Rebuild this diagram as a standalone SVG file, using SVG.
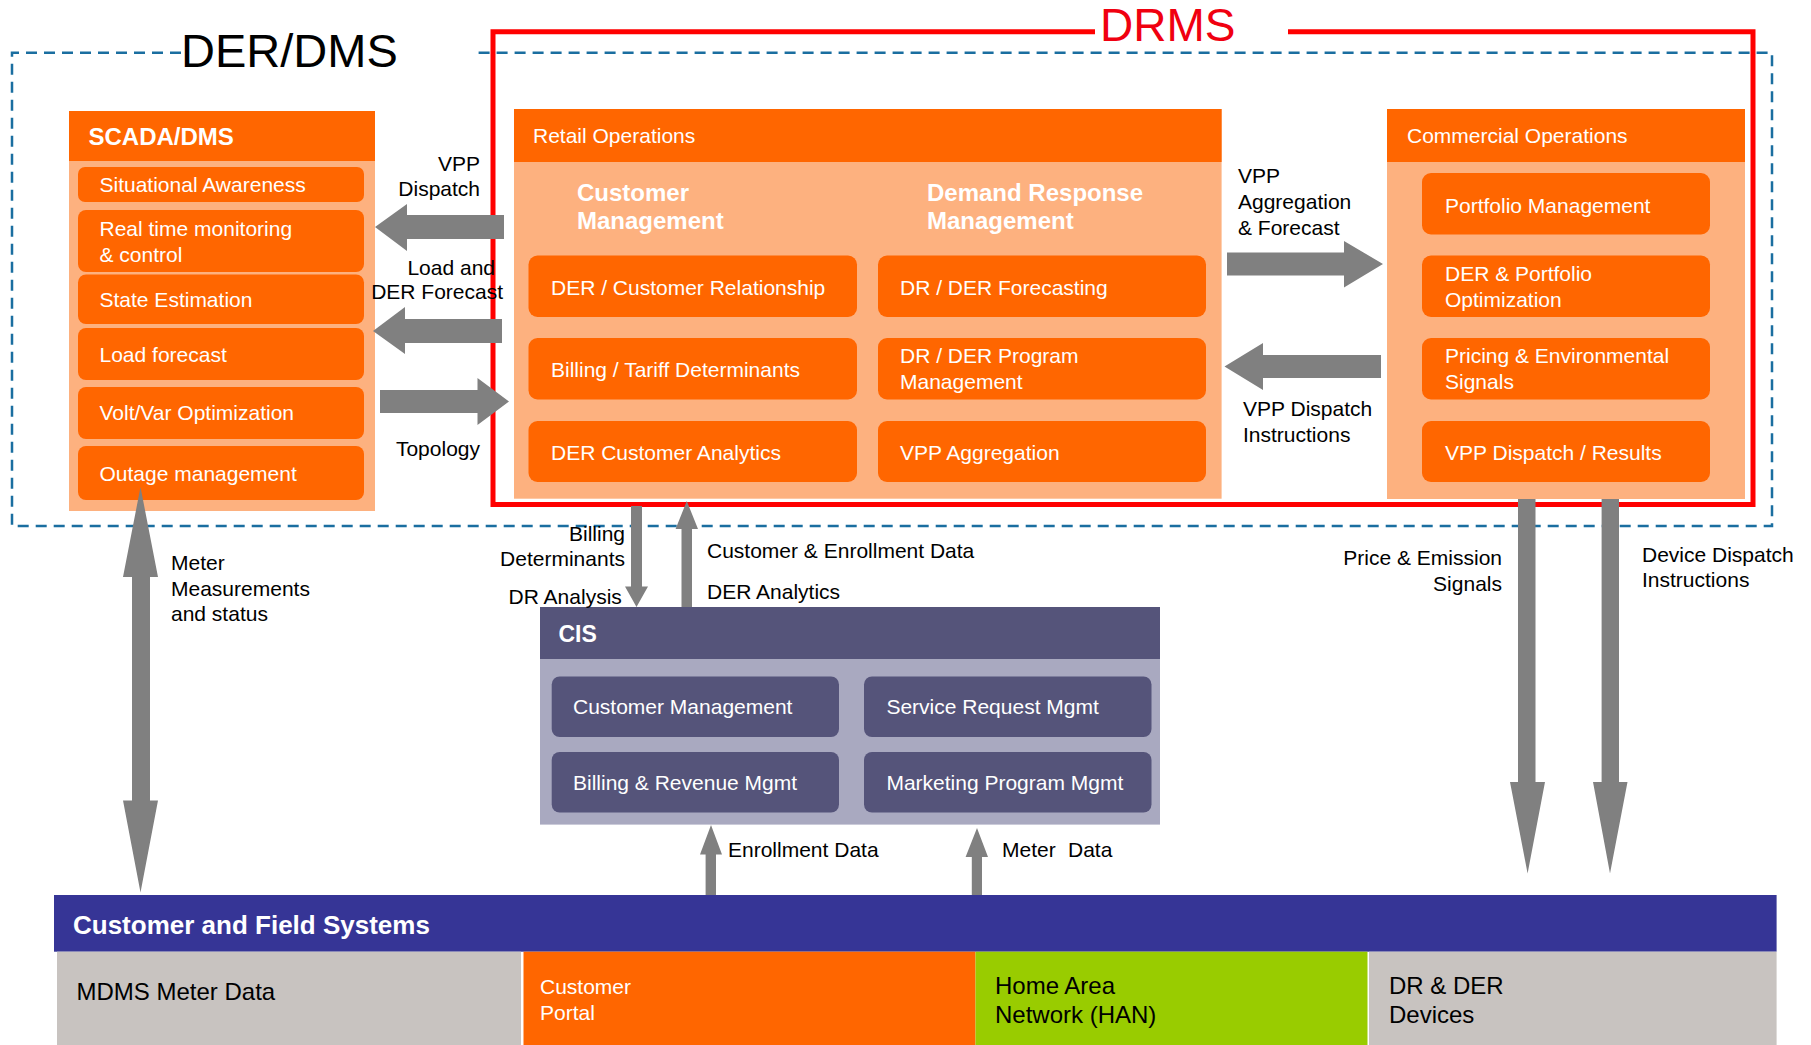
<svg xmlns="http://www.w3.org/2000/svg" width="1811" height="1045" viewBox="0 0 1811 1045">
<style>
text{font-family:"Liberation Sans",Arial,sans-serif;font-size:21px;fill:#000}
.w{fill:#fff}
.b{font-weight:bold}
.hdr{fill:#ff6600}
.body{fill:#fdb17f}
.item{fill:#ff6600}
.cish{fill:#55547a}
.cisb{fill:#a9a9c0}
.cisi{fill:#55547a}
.arr{fill:#808080}
</style>
<rect width="1811" height="1045" fill="#fff"/>
<g id="der-dms-boundary">
<path d="M181,52.7 H12 V526 H1772 V52.7 H474" fill="none" stroke="#1a6ea0" stroke-width="2.5" stroke-dasharray="11,7"/>
<text x="181" y="67" style="font-size:47px">DER/DMS</text>
</g>
<g id="drms-boundary">
<path d="M1095,31.7 H493 V504.5 H1753 V31.7 H1288" fill="none" stroke="#ff0000" stroke-width="5"/>
<text x="1100" y="41.3" style="font-size:46px;fill:#f00010">DRMS</text>
</g>
<g id="scada-dms">
<rect class="body" x="69" y="111" width="306" height="400"/>
<rect class="hdr" x="69" y="111" width="306" height="50"/>
<text class="w b" x="88.5" y="144.6" style="font-size:24px">SCADA/DMS</text>
<rect class="item" x="78" y="167" width="286" height="35" rx="7"/>
<text class="w" x="99.5" y="192">Situational Awareness</text>
<rect class="item" x="78" y="210" width="286" height="62" rx="8"/>
<text class="w" x="99.5" y="236">Real time monitoring</text>
<text class="w" x="99.5" y="262">&amp; control</text>
<rect class="item" x="78" y="274.5" width="286" height="49.5" rx="8"/>
<text class="w" x="99.5" y="306.5">State Estimation</text>
<rect class="item" x="78" y="328" width="286" height="52" rx="8"/>
<text class="w" x="99.5" y="362">Load forecast</text>
<rect class="item" x="78" y="387" width="286" height="52" rx="8"/>
<text class="w" x="99.5" y="420">Volt/Var Optimization</text>
<rect class="item" x="78" y="446" width="286" height="54" rx="8"/>
<text class="w" x="99.5" y="481">Outage management</text>
</g>
<g id="retail-operations">
<rect class="body" x="514" y="109" width="707.6" height="389.7"/>
<rect class="hdr" x="514" y="109" width="707.6" height="53"/>
<text class="w" x="533" y="143">Retail Operations</text>
<text class="w b" x="577" y="200.8" style="font-size:24px">Customer</text>
<text class="w b" x="577" y="229" style="font-size:24px">Management</text>
<text class="w b" x="927" y="200.8" style="font-size:24px">Demand Response</text>
<text class="w b" x="927" y="229" style="font-size:24px">Management</text>
<rect class="item" x="528.5" y="255.5" width="328.5" height="61.5" rx="9"/>
<text class="w" x="551" y="295">DER / Customer Relationship</text>
<rect class="item" x="528.5" y="338" width="328.5" height="61.5" rx="9"/>
<text class="w" x="551" y="377">Billing / Tariff Determinants</text>
<rect class="item" x="528.5" y="421" width="328.5" height="61" rx="9"/>
<text class="w" x="551" y="460">DER Customer Analytics</text>
<rect class="item" x="878" y="255.5" width="328" height="61.5" rx="9"/>
<text class="w" x="900" y="295">DR / DER Forecasting</text>
<rect class="item" x="878" y="338" width="328" height="61.5" rx="9"/>
<text class="w" x="900" y="363">DR / DER Program</text>
<text class="w" x="900" y="389">Management</text>
<rect class="item" x="878" y="421" width="328" height="61" rx="9"/>
<text class="w" x="900" y="460">VPP Aggregation</text>
</g>
<g id="commercial-operations">
<rect class="body" x="1387" y="109" width="358" height="390"/>
<rect class="hdr" x="1387" y="109" width="358" height="53"/>
<text class="w" x="1407" y="143">Commercial Operations</text>
<rect class="item" x="1422" y="173" width="288" height="61.5" rx="9"/>
<text class="w" x="1445" y="212.5">Portfolio Management</text>
<rect class="item" x="1422" y="255.5" width="288" height="61.5" rx="9"/>
<text class="w" x="1445" y="281">DER &amp; Portfolio</text>
<text class="w" x="1445" y="306.5">Optimization</text>
<rect class="item" x="1422" y="338" width="288" height="61.5" rx="9"/>
<text class="w" x="1445" y="363">Pricing &amp; Environmental</text>
<text class="w" x="1445" y="389">Signals</text>
<rect class="item" x="1422" y="421" width="288" height="61" rx="9"/>
<text class="w" x="1445" y="460">VPP Dispatch / Results</text>
</g>
<g id="cis">
<rect class="cisb" x="540" y="607" width="620" height="217.6"/>
<rect class="cish" x="540" y="607" width="620" height="52"/>
<text class="w b" x="558.5" y="641.7" style="font-size:23px">CIS</text>
<rect class="cisi" x="551.7" y="676.5" width="287.3" height="60.5" rx="8"/>
<text class="w" x="573" y="714">Customer Management</text>
<rect class="cisi" x="864" y="676.5" width="287.5" height="60.5" rx="8"/>
<text class="w" x="886.4" y="714">Service Request Mgmt</text>
<rect class="cisi" x="551.7" y="752" width="287.3" height="60.5" rx="8"/>
<text class="w" x="573" y="790">Billing &amp; Revenue Mgmt</text>
<rect class="cisi" x="864" y="752" width="287.5" height="60.5" rx="8"/>
<text class="w" x="886.4" y="790">Marketing Program Mgmt</text>
</g>
<g id="customer-field-systems">
<rect x="54" y="895" width="1722.6" height="56.7" fill="#363596"/>
<text class="w b" x="73" y="934" style="font-size:26px">Customer and Field Systems</text>
<rect x="57" y="951.7" width="464" height="93.3" fill="#c8c3c0"/>
<text x="76.5" y="1000" style="font-size:24px">MDMS Meter Data</text>
<rect x="523.5" y="951.7" width="452" height="93.3" fill="#ff6600"/>
<text class="w" x="540" y="994">Customer</text>
<text class="w" x="540" y="1020">Portal</text>
<rect x="975.5" y="951.7" width="392" height="93.3" fill="#99cc00"/>
<text x="995" y="994" style="font-size:24px">Home Area</text>
<text x="995" y="1022.6" style="font-size:24px">Network (HAN)</text>
<rect x="1369" y="951.7" width="407.6" height="93.3" fill="#c8c3c0"/>
<text x="1389" y="994" style="font-size:24px">DR &amp; DER</text>
<text x="1389" y="1022.6" style="font-size:24px">Devices</text>
</g>
<g id="connectors">
<polygon class="arr" points="504,215 407,215 407,204 375,227 407,251 407,239 504,239"/>
<polygon class="arr" points="502,319 405,319 405,307 373,331 405,354 405,343 502,343"/>
<polygon class="arr" points="380,390 477.5,390 477.5,378 509,401.5 477.5,425 477.5,413 380,413"/>
<polygon class="arr" points="1227,252.5 1344,252.5 1344,241 1383,264 1344,287.5 1344,275.5 1227,275.5"/>
<polygon class="arr" points="1381,355 1263,355 1263,343 1224.5,366.5 1263,390 1263,378 1381,378"/>
<polygon class="arr" points="631,506 642,506 642,586.6 648,586.6 636.5,607 625,586.6 631,586.6"/>
<polygon class="arr" points="686.8,501 698,529 692,529 692,607 681.5,607 681.5,529 675.6,529"/>
<polygon class="arr" points="140.5,487 158,577 150,577 150,800.5 158,800.5 140.5,892.5 123,800.5 132,800.5 132,577 123,577"/>
<polygon class="arr" points="711,825 722,854.6 716,854.6 716,895 705.6,895 705.6,854.6 700,854.6"/>
<polygon class="arr" points="977,828 988,857 982,857 982,895 971.8,895 971.8,857 965.6,857"/>
<polygon class="arr" points="1518,499 1535.5,499 1535.5,782 1545,782 1527.6,873.5 1510,782 1518,782"/>
<polygon class="arr" points="1601.6,499 1619,499 1619,782 1627.5,782 1610,873.5 1593,782 1601.6,782"/>
<text x="480" y="170.5" text-anchor="end">VPP</text>
<text x="480" y="196" text-anchor="end">Dispatch</text>
<text x="495" y="274.5" text-anchor="end">Load and</text>
<text x="503" y="299" text-anchor="end">DER Forecast</text>
<text x="480" y="456" text-anchor="end">Topology</text>
<text x="1238" y="182.5">VPP</text>
<text x="1238" y="209">Aggregation</text>
<text x="1238" y="235">&amp; Forecast</text>
<text x="1243" y="415.7">VPP Dispatch</text>
<text x="1243" y="441.5">Instructions</text>
<text x="625" y="541" text-anchor="end">Billing</text>
<text x="625" y="566" text-anchor="end">Determinants</text>
<text x="508.6" y="604">DR Analysis</text>
<text x="707" y="558.4">Customer &amp; Enrollment Data</text>
<text x="707" y="598.7">DER Analytics</text>
<text x="171" y="570">Meter</text>
<text x="171" y="595.6">Measurements</text>
<text x="171" y="621">and status</text>
<text x="728" y="857">Enrollment Data</text>
<text x="1002" y="857">Meter<tspan x="1068">Data</tspan></text>
<text x="1502" y="565" text-anchor="end">Price &amp; Emission</text>
<text x="1502" y="591" text-anchor="end">Signals</text>
<text x="1642" y="562">Device Dispatch</text>
<text x="1642" y="587">Instructions</text>
</g>
</svg>
